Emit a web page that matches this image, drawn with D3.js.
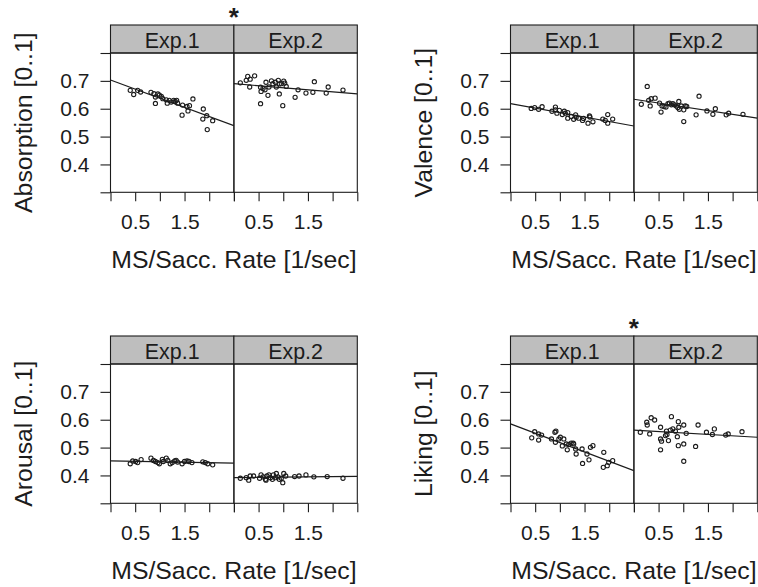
<!DOCTYPE html>
<html>
<head>
<meta charset="utf-8">
<script src="https://cdn.jsdelivr.net/npm/d3@7"></script>
<style>
  body { margin: 0; background: #fff; }
  svg { display: block; font-family: "Liberation Sans", Arial, Helvetica, sans-serif; }
</style>
</head>
<body>
<svg id="chart" width="758" height="587"></svg>
<script>
// ---- data -------------------------------------------------------------
const measures = ["Absorption", "Valence", "Arousal", "Liking"];
const experiments = ["Exp.1", "Exp.2"];
const significant = [true, false, false, true];
const yTickValues = [0.3, 0.4, 0.5, 0.6, 0.7, 0.8];
const yTickLabels = ["", "0.4", "0.5", "0.6", "0.7", ""];
const xTickValues = [0, 0.5, 1, 1.5, 2, 2.5];
const xTickLabels = ["", "0.5", "", "1.5", "", ""];
const xTitle = "MS/Sacc. Rate [1/sec]";

// [rate, score] per participant
const absorptionExp1 = [[0.40,0.666],[0.47,0.651],[0.55,0.666],[0.61,0.660],[0.82,0.659],[0.88,0.654],[0.91,0.642],[0.91,0.619],[0.96,0.653],[0.99,0.649],[1.03,0.644],[1.06,0.636],[1.13,0.632],[1.15,0.620],[1.19,0.630],[1.23,0.624],[1.28,0.630],[1.31,0.626],[1.34,0.630],[1.36,0.620],[1.46,0.613],[1.45,0.577],[1.55,0.608],[1.57,0.592],[1.60,0.611],[1.67,0.635],[1.88,0.599],[1.87,0.563],[1.95,0.575],[1.96,0.525],[2.07,0.557]];
const absorptionExp2 = [[0.13,0.693],[0.25,0.702],[0.28,0.716],[0.33,0.706],[0.42,0.718],[0.32,0.678],[0.54,0.677],[0.55,0.662],[0.59,0.673],[0.63,0.668],[0.65,0.695],[0.69,0.648],[0.71,0.678],[0.76,0.700],[0.79,0.690],[0.84,0.695],[0.86,0.678],[0.90,0.702],[0.92,0.689],[0.92,0.653],[0.96,0.690],[0.99,0.611],[1.01,0.699],[1.03,0.692],[1.06,0.680],[1.24,0.641],[1.30,0.668],[1.46,0.656],[1.60,0.659],[1.63,0.697],[1.87,0.656],[1.91,0.678],[2.21,0.667],[0.54,0.618]];
const valenceExp1 = [[0.42,0.601],[0.49,0.604],[0.57,0.598],[0.64,0.607],[0.84,0.591],[0.91,0.606],[0.91,0.596],[0.94,0.584],[0.99,0.594],[1.05,0.579],[1.09,0.591],[1.11,0.584],[1.16,0.586],[1.16,0.566],[1.23,0.572],[1.28,0.562],[1.32,0.578],[1.33,0.569],[1.38,0.566],[1.48,0.565],[1.46,0.558],[1.57,0.548],[1.60,0.574],[1.61,0.570],[1.67,0.553],[1.87,0.563],[1.92,0.558],[1.97,0.579],[1.97,0.548],[2.07,0.563]];
const valenceExp2 = [[0.15,0.616],[0.27,0.680],[0.30,0.630],[0.33,0.610],[0.35,0.636],[0.43,0.638],[0.52,0.620],[0.55,0.588],[0.57,0.610],[0.61,0.608],[0.65,0.606],[0.69,0.618],[0.72,0.620],[0.76,0.614],[0.79,0.618],[0.82,0.614],[0.86,0.610],[0.89,0.604],[0.91,0.626],[0.92,0.598],[0.96,0.610],[1.01,0.596],[1.01,0.554],[1.04,0.610],[1.07,0.608],[1.26,0.578],[1.32,0.645],[1.48,0.592],[1.60,0.580],[1.65,0.600],[1.87,0.578],[1.92,0.584],[2.21,0.580]];
const arousalExp1 = [[0.40,0.442],[0.45,0.452],[0.51,0.450],[0.55,0.446],[0.62,0.457],[0.82,0.462],[0.87,0.454],[0.91,0.450],[0.96,0.446],[0.99,0.442],[1.05,0.458],[1.07,0.450],[1.13,0.462],[1.16,0.454],[1.21,0.442],[1.25,0.446],[1.30,0.452],[1.33,0.454],[1.36,0.448],[1.45,0.442],[1.50,0.450],[1.55,0.452],[1.59,0.450],[1.65,0.446],[1.87,0.449],[1.92,0.446],[1.97,0.442],[2.07,0.438]];
const arousalExp2 = [[0.13,0.390],[0.25,0.392],[0.30,0.383],[0.33,0.398],[0.40,0.398],[0.52,0.390],[0.55,0.402],[0.59,0.395],[0.64,0.386],[0.67,0.398],[0.71,0.402],[0.74,0.392],[0.78,0.386],[0.80,0.402],[0.84,0.392],[0.86,0.407],[0.89,0.395],[0.92,0.386],[0.96,0.390],[0.99,0.374],[1.01,0.407],[1.05,0.398],[1.23,0.396],[1.32,0.398],[1.46,0.402],[1.62,0.395],[1.89,0.396],[2.21,0.390],[0.65,0.383]];
const likingExp1 = [[0.43,0.535],[0.49,0.557],[0.57,0.549],[0.57,0.527],[0.63,0.545],[0.83,0.531],[0.90,0.555],[0.92,0.559],[0.91,0.519],[0.98,0.531],[1.01,0.537],[1.05,0.506],[1.08,0.531],[1.15,0.492],[1.13,0.513],[1.18,0.511],[1.23,0.516],[1.28,0.513],[1.32,0.495],[1.33,0.477],[1.27,0.516],[1.45,0.495],[1.46,0.443],[1.55,0.477],[1.59,0.456],[1.62,0.501],[1.67,0.507],[1.89,0.483],[1.88,0.429],[1.96,0.435],[1.99,0.447],[2.07,0.453]];
const likingExp2 = [[0.13,0.555],[0.26,0.591],[0.27,0.581],[0.32,0.549],[0.35,0.607],[0.42,0.599],[0.54,0.573],[0.54,0.531],[0.56,0.523],[0.54,0.492],[0.64,0.543],[0.66,0.559],[0.67,0.547],[0.70,0.525],[0.74,0.563],[0.76,0.611],[0.79,0.567],[0.84,0.559],[0.88,0.539],[0.90,0.593],[0.91,0.573],[0.90,0.507],[1.01,0.581],[1.01,0.513],[1.01,0.451],[1.06,0.551],[1.25,0.504],[1.30,0.581],[1.47,0.555],[1.59,0.547],[1.63,0.567],[1.86,0.545],[1.91,0.549],[2.19,0.557]];

// fitted regression line: score at rate 0 and at rate 2.5, per experiment
const absorptionFit = [[0.703, 0.539], [0.690, 0.653]];
const valenceFit    = [[0.618, 0.538], [0.634, 0.566]];
const arousalFit    = [[0.452, 0.444], [0.392, 0.397]];
const likingFit     = [[0.585, 0.417], [0.563, 0.537]];

const points = [
  [absorptionExp1, absorptionExp2],
  [valenceExp1, valenceExp2],
  [arousalExp1, arousalExp2],
  [likingExp1, likingExp2]
];
const fits = [absorptionFit, valenceFit, arousalFit, likingFit];

// ---- layout -----------------------------------------------------------
const ink = "#1c1c1c";
const stripFill = "#bebebe";
const colLeft = [110.5, 510.5];
const rowStripTop = [25, 336];
const stripH = 28;
const panelH = 139.3;
const subW = 123.4;

const svg = d3.select("#chart");

measures.forEach((name, i) => {
  const col = i % 2, row = Math.floor(i / 2);
  const left = colLeft[col];
  const stripTop = rowStripTop[row];
  const panelTop = stripTop + stripH;
  const panelBottom = panelTop + panelH;

  const g = svg.append("g");
  const y = d3.scaleLinear().domain([0.3, 0.8]).range([panelBottom, panelTop]);

  // y axis
  const yAxis = d3.axisLeft(y)
    .tickValues(yTickValues)
    .tickFormat((d, k) => yTickLabels[k])
    .tickSize(10).tickPadding(11);
  const ya = g.append("g").attr("transform", `translate(${left},0)`).call(yAxis);
  ya.select(".domain").remove();
  ya.selectAll("line").attr("stroke", ink).attr("stroke-width", 1.1);
  ya.selectAll("text").attr("font-size", 21).attr("fill", ink)
    .attr("font-family", "Liberation Sans, Arial, sans-serif");

  // y title
  g.append("text")
    .attr("transform", `translate(${left - 79},${(panelTop + panelBottom) / 2}) rotate(-90)`)
    .attr("text-anchor", "middle")
    .attr("font-size", 24.8).attr("fill", ink)
    .text(`${name} [0..1]`);

  experiments.forEach((exp, j) => {
    const x0 = left + j * subW;
    const x = d3.scaleLinear().domain([0, 2.5]).range([x0, x0 + subW]);

    // x axis
    const xAxis = d3.axisBottom(x)
      .tickValues(xTickValues)
      .tickFormat((d, k) => xTickLabels[k])
      .tickSize(9).tickPadding(13);
    const xa = g.append("g").attr("transform", `translate(0,${panelBottom})`).call(xAxis);
    xa.select(".domain").remove();
    xa.selectAll("line").attr("stroke", ink).attr("stroke-width", 1.1);
    xa.selectAll("text").attr("font-size", 21).attr("fill", ink)
      .attr("font-family", "Liberation Sans, Arial, sans-serif");

    // strip
    g.append("rect")
      .attr("x", x0).attr("y", stripTop)
      .attr("width", subW).attr("height", stripH)
      .attr("fill", stripFill).attr("stroke", ink).attr("stroke-width", 1.1);
    g.append("text")
      .attr("x", x0 + subW / 2).attr("y", stripTop + 23.3)
      .attr("text-anchor", "middle")
      .attr("font-size", 21.4).attr("fill", ink)
      .text(exp);

    // panel frame
    g.append("rect")
      .attr("x", x0).attr("y", panelTop)
      .attr("width", subW).attr("height", panelH)
      .attr("fill", "none").attr("stroke", ink).attr("stroke-width", 1.1);

    const clipId = `clip-${i}-${j}`;
    g.append("clipPath").attr("id", clipId)
      .append("rect").attr("x", x0).attr("y", panelTop)
      .attr("width", subW).attr("height", panelH);

    const plot = g.append("g").attr("clip-path", `url(#${clipId})`);

    // participants
    plot.selectAll("circle")
      .data(points[i][j])
      .join("circle")
      .attr("cx", d => x(d[0]))
      .attr("cy", d => y(d[1]))
      .attr("r", 2.1)
      .attr("fill", "none")
      .attr("stroke", ink)
      .attr("stroke-width", 1.1);

    // regression line
    const fit = fits[i][j];
    plot.append("line")
      .attr("x1", x(0)).attr("y1", y(fit[0]))
      .attr("x2", x(2.5)).attr("y2", y(fit[1]))
      .attr("stroke", ink).attr("stroke-width", 1.2);
  });

  // x title
  g.append("text")
    .attr("x", left + subW).attr("y", panelBottom + 75.5)
    .attr("text-anchor", "middle")
    .attr("font-size", 24.8).attr("fill", ink)
    .text(xTitle);

  // significance marker
  if (significant[i]) {
    g.append("text")
      .attr("x", left + subW).attr("y", stripTop + 1)
      .attr("text-anchor", "middle")
      .attr("font-size", 26).attr("font-weight", "bold").attr("fill", ink)
      .text("*");
  }
});
</script>
</body>
</html>
